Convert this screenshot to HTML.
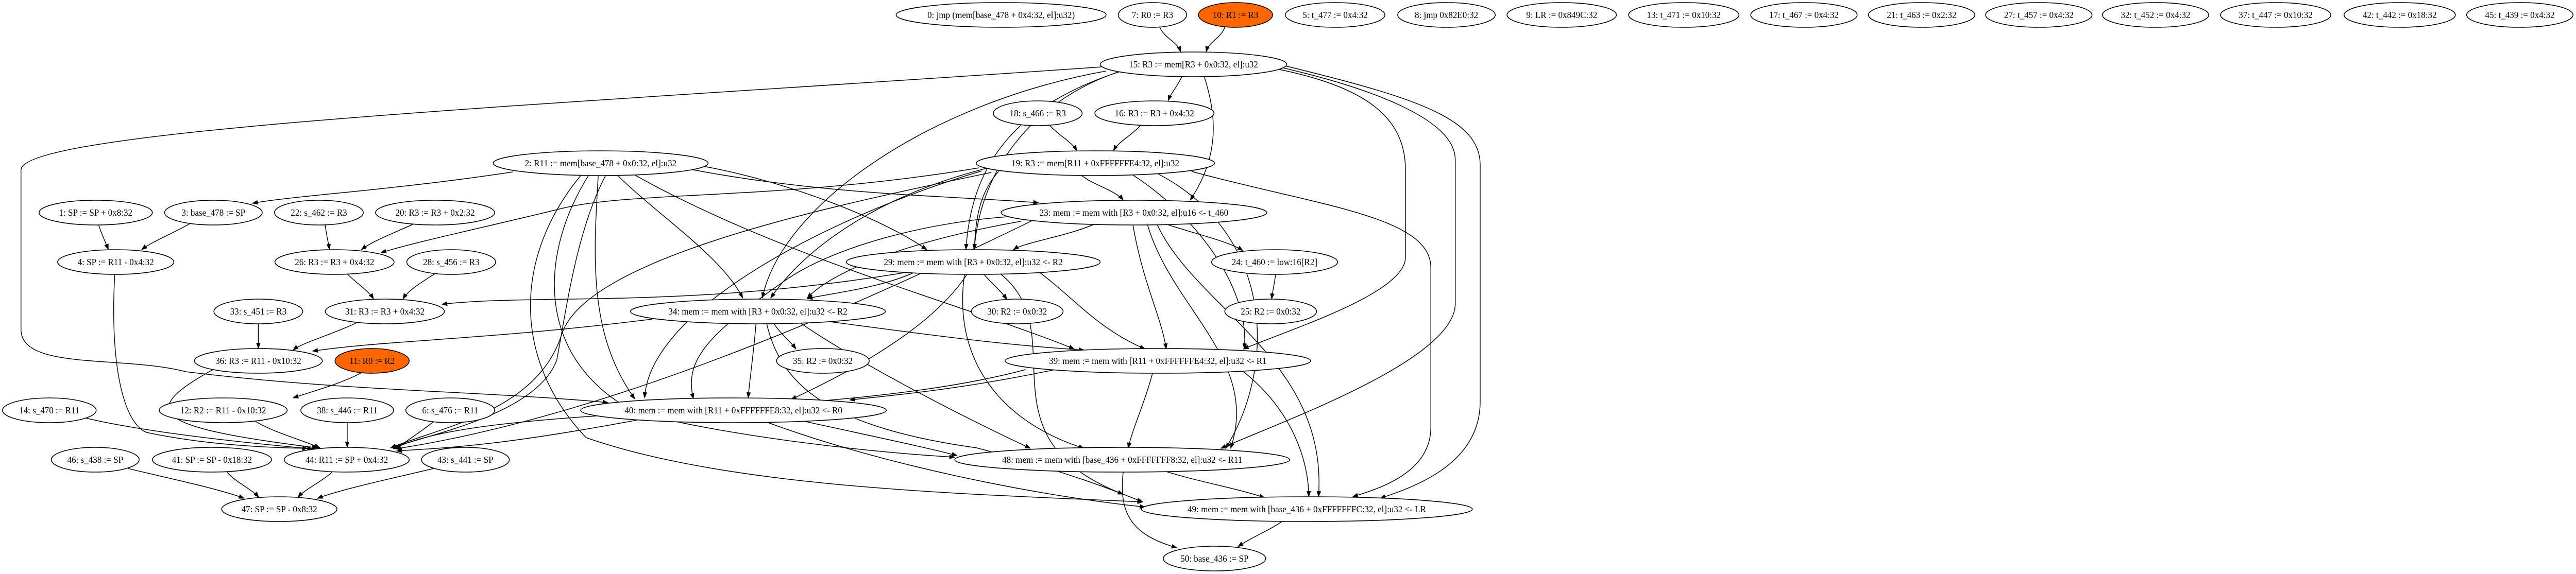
<!DOCTYPE html>
<html><head><meta charset="utf-8"><style>
html,body{margin:0;padding:0;background:#fff;width:100%;height:100%;overflow:hidden;}
svg{display:block;width:100vw;height:100vh;}
text{font-family:"Liberation Serif","DejaVu Serif",serif;font-size:18px;fill:#000;text-anchor:middle;}
ellipse{stroke:#000;stroke-width:1.6;fill:#fff;}
ellipse.o{fill:#ff6600;}
path.e{stroke:#000;stroke-width:1.5;fill:none;marker-end:url(#a);}
</style></head><body>
<svg viewBox="0 0 5275 1115" preserveAspectRatio="none" xmlns="http://www.w3.org/2000/svg">
<defs><marker id="a" markerUnits="userSpaceOnUse" markerWidth="12" markerHeight="9" refX="11" refY="4.5" orient="auto"><path d="M0,0 L12,4.5 L0,9z" fill="#000"/></marker></defs>
<g>
<path class="e" d="M2375,53 C2385,75 2410,80 2418,101"/>
<path class="e" d="M2508,53 C2500,75 2475,80 2470,101"/>
<path class="e" d="M2420,149 C2410,170 2398,180 2392,196"/>
<path class="e" d="M2150,244 C2170,265 2195,275 2205,293"/>
<path class="e" d="M2335,244 C2315,265 2290,275 2280,293"/>
<path class="e" d="M2466,149 C2490,220 2500,300 2437,389"/>
<path class="e" d="M2290,140 C2100,200 1990,300 1978,485"/>
<path class="e" d="M2300,137 C2150,180 2010,300 1995,485"/>
<path class="e" d="M2265,138 C1900,200 1600,400 1561,579"/>
<path class="e" d="M2255,130 C1200,200 43,250 43,330 L43,640 C43,720 250,690 380,722 C700,760 1000,760 1245,782"/>
<path class="e" d="M2620,135 C2800,170 2878,230 2878,330 L2878,500 C2878,570 2640,640 2546,678"/>
<path class="e" d="M2628,132 C2800,170 2980,230 2980,310 L2980,590 C2980,700 2620,820 2500,871"/>
<path class="e" d="M2632,128 C2900,190 3031,230 3031,320 L3031,780 C3031,900 2900,945 2826,968"/>
<path class="e" d="M2215,341 C2240,360 2285,370 2300,389"/>
<path class="e" d="M2045,333 C2000,380 1998,440 1995,485"/>
<path class="e" d="M2020,327 C1800,380 1650,480 1578,579"/>
<path class="e" d="M2005,326 C1600,390 1300,370 1150,405 C1000,440 850,470 780,491"/>
<path class="e" d="M2010,332 C1700,420 1330,600 1320,773"/>
<path class="e" d="M2030,335 C1700,400 1200,500 1150,650 C1100,800 900,830 800,870"/>
<path class="e" d="M2320,340 C2450,420 2560,560 2548,678"/>
<path class="e" d="M2370,337 C2600,450 2620,700 2510,871"/>
<path class="e" d="M2440,333 C2700,400 2930,420 2930,520 L2930,830 C2930,920 2820,950 2770,965"/>
<path class="e" d="M1050,334 C800,370 600,380 517,395"/>
<path class="e" d="M1420,330 C1700,380 1950,380 2127,394"/>
<path class="e" d="M1440,323 C1600,350 1800,420 1898,485"/>
<path class="e" d="M1265,341 C1350,420 1480,500 1521,579"/>
<path class="e" d="M1300,340 C1600,500 2000,600 2200,678"/>
<path class="e" d="M1240,341 C1180,450 1160,600 1140,700 C1100,800 900,840 800,870"/>
<path class="e" d="M1225,341 C1215,500 1205,650 1300,775"/>
<path class="e" d="M1205,341 C1100,500 1100,700 1300,800 C1500,850 1800,880 1955,888"/>
<path class="e" d="M1190,340 C1050,500 1050,700 1200,850 C1500,950 2000,960 2340,975"/>
<path class="e" d="M2240,436 C2180,460 2100,470 2075,485"/>
<path class="e" d="M2390,436 C2450,455 2520,470 2545,487"/>
<path class="e" d="M2090,430 C1850,470 1700,530 1653,579"/>
<path class="e" d="M2080,420 C1900,430 1700,480 1600,550 C1450,650 1400,700 1420,775"/>
<path class="e" d="M2320,437 C2340,550 2380,620 2388,678"/>
<path class="e" d="M2350,437 C2400,600 2580,700 2520,871"/>
<path class="e" d="M2370,437 C2450,600 2720,700 2700,965"/>
<path class="e" d="M2115,428 C1850,550 1300,800 810,872"/>
<path class="e" d="M2612,533 C2610,550 2606,565 2604,581"/>
<path class="e" d="M202,437 C208,455 216,470 222,485"/>
<path class="e" d="M390,434 C350,455 310,470 290,485"/>
<path class="e" d="M666,437 C668,455 672,470 675,485"/>
<path class="e" d="M845,436 C800,455 760,470 740,485"/>
<path class="e" d="M712,533 C730,550 755,565 765,581"/>
<path class="e" d="M890,532 C860,550 835,565 825,581"/>
<path class="e" d="M1850,530 C1400,600 1100,570 905,591"/>
<path class="e" d="M2015,533 C2030,550 2050,565 2062,582"/>
<path class="e" d="M1870,530 C1800,560 1700,570 1653,580"/>
<path class="e" d="M2130,530 C2200,580 2250,640 2345,678"/>
<path class="e" d="M1980,533 C1900,650 1700,740 1620,776"/>
<path class="e" d="M1975,533 C1950,700 2050,820 2220,871"/>
<path class="e" d="M2050,533 C2200,650 2000,850 2300,960"/>
<path class="e" d="M529,629 C529,650 529,660 529,677"/>
<path class="e" d="M730,627 C680,650 620,665 600,680"/>
<path class="e" d="M1335,620 C1000,660 800,660 640,682"/>
<path class="e" d="M1585,629 C1600,650 1620,665 1630,678"/>
<path class="e" d="M1548,629 C1544,680 1536,730 1532,773"/>
<path class="e" d="M1700,625 C1900,650 2050,670 2220,680"/>
<path class="e" d="M1640,628 C1750,700 1950,800 2110,871"/>
<path class="e" d="M1570,629 C1600,750 1700,830 2000,870 C2200,920 2300,960 2340,975"/>
<path class="e" d="M2160,718 C1950,760 1800,770 1740,777"/>
<path class="e" d="M2100,718 C1700,820 1000,780 805,872"/>
<path class="e" d="M2360,725 C2345,780 2320,830 2310,871"/>
<path class="e" d="M2545,721 C2650,800 2680,900 2680,965"/>
<path class="e" d="M436,718 C280,800 310,830 650,870"/>
<path class="e" d="M740,724 C700,745 640,760 600,773"/>
<path class="e" d="M522,818 C560,840 620,855 655,870"/>
<path class="e" d="M711,821 C711,840 711,855 711,869"/>
<path class="e" d="M888,819 C860,840 830,858 810,872"/>
<path class="e" d="M175,812 C300,840 500,860 640,872"/>
<path class="e" d="M235,533 C225,700 250,820 300,840 C450,870 600,870 630,871"/>
<path class="e" d="M1310,815 C1000,870 900,870 812,876"/>
<path class="e" d="M1640,817 C1800,850 1900,870 1960,885"/>
<path class="e" d="M1570,820 C1800,900 2100,960 2345,985"/>
<path class="e" d="M2385,915 C2450,935 2540,950 2590,967"/>
<path class="e" d="M2300,917 C2290,1000 2320,1040 2410,1064"/>
<path class="e" d="M2625,1013 C2600,1030 2560,1045 2535,1062"/>
<path class="e" d="M262,910 C350,930 450,950 500,968"/>
<path class="e" d="M465,917 C480,935 515,950 530,966"/>
<path class="e" d="M680,917 C660,935 625,950 610,966"/>
<path class="e" d="M888,910 C800,930 700,950 650,968"/>
</g>
<g>
<ellipse cx="2050" cy="29" rx="215" ry="24"/><text x="2050" y="35">0: jmp (mem[base_478 + 0x4:32, el]:u32)</text>
<ellipse cx="2360" cy="29" rx="70" ry="24"/><text x="2360" y="35">7: R0 := R3</text>
<ellipse class="o" cx="2530" cy="29" rx="76" ry="24"/><text x="2530" y="35">10: R1 := R3</text>
<ellipse cx="2734" cy="29" rx="102" ry="24"/><text x="2734" y="35">5: t_477 := 0x4:32</text>
<ellipse cx="2962" cy="29" rx="100" ry="24"/><text x="2962" y="35">8: jmp 0x82E0:32</text>
<ellipse cx="3198" cy="29" rx="112" ry="24"/><text x="3198" y="35">9: LR := 0x849C:32</text>
<ellipse cx="3448" cy="29" rx="113" ry="24"/><text x="3448" y="35">13: t_471 := 0x10:32</text>
<ellipse cx="3694" cy="29" rx="109" ry="24"/><text x="3694" y="35">17: t_467 := 0x4:32</text>
<ellipse cx="3935" cy="29" rx="109" ry="24"/><text x="3935" y="35">21: t_463 := 0x2:32</text>
<ellipse cx="4175" cy="29" rx="109" ry="24"/><text x="4175" y="35">27: t_457 := 0x4:32</text>
<ellipse cx="4414" cy="29" rx="109" ry="24"/><text x="4414" y="35">32: t_452 := 0x4:32</text>
<ellipse cx="4660" cy="29" rx="113" ry="24"/><text x="4660" y="35">37: t_447 := 0x10:32</text>
<ellipse cx="4914" cy="29" rx="114" ry="24"/><text x="4914" y="35">42: t_442 := 0x18:32</text>
<ellipse cx="5160" cy="29" rx="109" ry="24"/><text x="5160" y="35">45: t_439 := 0x4:32</text>
<ellipse cx="2444" cy="125" rx="191" ry="24"/><text x="2444" y="131">15: R3 := mem[R3 + 0x0:32, el]:u32</text>
<ellipse cx="2125" cy="220" rx="91" ry="24"/><text x="2125" y="226">18: s_466 := R3</text>
<ellipse cx="2364" cy="220" rx="122" ry="24"/><text x="2364" y="226">16: R3 := R3 + 0x4:32</text>
<ellipse cx="1230" cy="317" rx="220" ry="24"/><text x="1230" y="323">2: R11 := mem[base_478 + 0x0:32, el]:u32</text>
<ellipse cx="2243" cy="317" rx="244" ry="24"/><text x="2243" y="323">19: R3 := mem[R11 + 0xFFFFFFE4:32, el]:u32</text>
<ellipse cx="196" cy="413" rx="116" ry="24"/><text x="196" y="419">1: SP := SP + 0x8:32</text>
<ellipse cx="437" cy="413" rx="100" ry="24"/><text x="437" y="419">3: base_478 := SP</text>
<ellipse cx="653" cy="413" rx="91" ry="24"/><text x="653" y="419">22: s_462 := R3</text>
<ellipse cx="891" cy="413" rx="122" ry="24"/><text x="891" y="419">20: R3 := R3 + 0x2:32</text>
<ellipse cx="2322" cy="413" rx="272" ry="24"/><text x="2322" y="419">23: mem := mem with [R3 + 0x0:32, el]:u16 &lt;- t_460</text>
<ellipse cx="237" cy="509" rx="119" ry="24"/><text x="237" y="515">4: SP := R11 - 0x4:32</text>
<ellipse cx="685" cy="509" rx="122" ry="24"/><text x="685" y="515">26: R3 := R3 + 0x4:32</text>
<ellipse cx="924" cy="509" rx="91" ry="24"/><text x="924" y="515">28: s_456 := R3</text>
<ellipse cx="1993" cy="509" rx="260" ry="24"/><text x="1993" y="515">29: mem := mem with [R3 + 0x0:32, el]:u32 &lt;- R2</text>
<ellipse cx="2610" cy="509" rx="129" ry="24"/><text x="2610" y="515">24: t_460 := low:16[R2]</text>
<ellipse cx="529" cy="605" rx="91" ry="24"/><text x="529" y="611">33: s_451 := R3</text>
<ellipse cx="788" cy="605" rx="122" ry="24"/><text x="788" y="611">31: R3 := R3 + 0x4:32</text>
<ellipse cx="1552" cy="605" rx="261" ry="24"/><text x="1552" y="611">34: mem := mem with [R3 + 0x0:32, el]:u32 &lt;- R2</text>
<ellipse cx="2083" cy="605" rx="94" ry="24"/><text x="2083" y="611">30: R2 := 0x0:32</text>
<ellipse cx="2602" cy="605" rx="94" ry="24"/><text x="2602" y="611">25: R2 := 0x0:32</text>
<ellipse cx="529" cy="701" rx="131" ry="24"/><text x="529" y="707">36: R3 := R11 - 0x10:32</text>
<ellipse class="o" cx="762" cy="701" rx="76" ry="24"/><text x="762" y="707">11: R0 := R2</text>
<ellipse cx="1685" cy="701" rx="95" ry="24"/><text x="1685" y="707">35: R2 := 0x0:32</text>
<ellipse cx="2371" cy="701" rx="313" ry="24"/><text x="2371" y="707">39: mem := mem with [R11 + 0xFFFFFFE4:32, el]:u32 &lt;- R1</text>
<ellipse cx="101" cy="797" rx="96" ry="24"/><text x="101" y="803">14: s_470 := R11</text>
<ellipse cx="457" cy="797" rx="131" ry="24"/><text x="457" y="803">12: R2 := R11 - 0x10:32</text>
<ellipse cx="711" cy="797" rx="95" ry="24"/><text x="711" y="803">38: s_446 := R11</text>
<ellipse cx="922" cy="797" rx="91" ry="24"/><text x="922" y="803">6: s_476 := R11</text>
<ellipse cx="1502" cy="797" rx="313" ry="24"/><text x="1502" y="803">40: mem := mem with [R11 + 0xFFFFFFE8:32, el]:u32 &lt;- R0</text>
<ellipse cx="195" cy="893" rx="90" ry="24"/><text x="195" y="899">46: s_438 := SP</text>
<ellipse cx="434" cy="893" rx="122" ry="24"/><text x="434" y="899">41: SP := SP - 0x18:32</text>
<ellipse cx="710" cy="893" rx="128" ry="24"/><text x="710" y="899">44: R11 := SP + 0x4:32</text>
<ellipse cx="953" cy="893" rx="90" ry="24"/><text x="953" y="899">43: s_441 := SP</text>
<ellipse cx="2298" cy="893" rx="343" ry="24"/><text x="2298" y="899">48: mem := mem with [base_436 + 0xFFFFFFF8:32, el]:u32 &lt;- R11</text>
<ellipse cx="572" cy="989" rx="118" ry="24"/><text x="572" y="995">47: SP := SP - 0x8:32</text>
<ellipse cx="2676" cy="989" rx="339" ry="24"/><text x="2676" y="995">49: mem := mem with [base_436 + 0xFFFFFFFC:32, el]:u32 &lt;- LR</text>
<ellipse cx="2487" cy="1085" rx="105" ry="24"/><text x="2487" y="1091">50: base_436 := SP</text>
</g>
</svg>
</body></html>
